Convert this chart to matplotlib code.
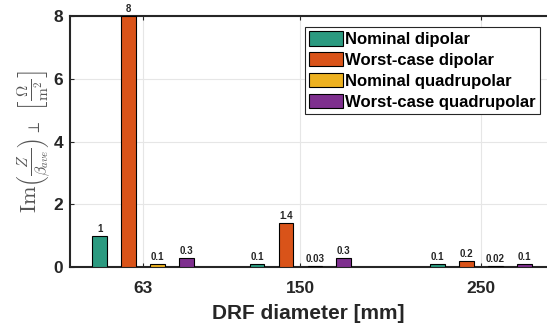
import numpy as np
import matplotlib
matplotlib.use("Agg")
import matplotlib.pyplot as plt

plt.rcParams['font.family'] = ['Liberation Sans', 'DejaVu Sans']
plt.rcParams['mathtext.fontset'] = 'cm'

# data
diameters = [63, 150, 250]
series_names = ["Nominal dipolar", "Worst-case dipolar",
                "Nominal quadrupolar", "Worst-case quadrupolar"]
nominal_dipolar = [1, 0.1, 0.1]
worst_dipolar = [8, 1.4, 0.2]
nominal_quad = [0.1, 0.03, 0.02]
worst_quad = [0.3, 0.3, 0.1]
value_labels = [["1", "0.1", "0.1"],
                ["8", "1.4", "0.2"],
                ["0.1", "0.03", "0.02"],
                ["0.3", "0.3", "0.1"]]

colors = ['#2b9a80', '#d95319', '#edb120', '#7e2f8e']
series = [nominal_dipolar, worst_dipolar, nominal_quad, worst_quad]

fig = plt.figure(figsize=(5.47, 3.28), dpi=100)
ax = fig.add_axes([70/547, 1-267/328, 1-70/547, (267-16)/328])

x = np.array(diameters, dtype=float)
offsets = [-24, -8, 8, 24]
width = 8
for vals, off, c, name, labs in zip(series, offsets, colors, series_names, value_labels):
    bars = ax.bar(x + off, vals, width, color=c, edgecolor='black', linewidth=0.8,
                  label=name, zorder=3)
    for b, lab in zip(bars, labs):
        ax.annotate(lab, (b.get_x() + b.get_width()/2, b.get_height()),
                    xytext=(0, 1.5), textcoords='offset points',
                    ha='center', va='bottom', fontsize=7, fontweight='bold',
                    color='#262626', zorder=4)

ax.set_xlim(22.6, 286.5)
ax.set_ylim(0, 8)
ax.set_xticks(diameters)
ax.set_yticks([0, 2, 4, 6, 8])
ax.tick_params(direction='in', length=3, width=0.8, colors='#262626',
               labelsize=12.5, top=True)
ax.tick_params(axis='x', pad=10)
ax.tick_params(axis='y', pad=5)
for t in ax.get_xticklabels() + ax.get_yticklabels():
    t.set_fontweight('bold')
ax.grid(True, color='#e6e6e6', linewidth=0.8, zorder=0)
ax.set_axisbelow(True)
for s in ['left', 'bottom', 'top']:
    ax.spines[s].set_color('#262626')
    ax.spines[s].set_linewidth(1.5)
ax.spines['right'].set_visible(False)

ax.set_xlabel("DRF diameter [mm]", fontsize=15, fontweight='bold', color='#262626',
              labelpad=6)
ax.set_ylabel(r'$\mathrm{Im}\left(\frac{Z}{\beta_{ave}}\right)_{\perp}\ \left[\frac{\Omega}{\mathrm{m}^2}\right]$',
              fontsize=16, color='#555555', labelpad=0)

leg = ax.legend(loc='upper right', bbox_to_anchor=(540/547, 1-27/328),
                bbox_transform=fig.transFigure, fancybox=False, framealpha=1,
                edgecolor='#262626', borderaxespad=0, handlelength=2.0,
                handleheight=0.95, handletextpad=0.15, labelspacing=0.3,
                borderpad=0.25, prop={'weight': 'bold', 'size': 12})
leg.get_frame().set_linewidth(0.8)

fig.savefig("out.png", dpi=100)
